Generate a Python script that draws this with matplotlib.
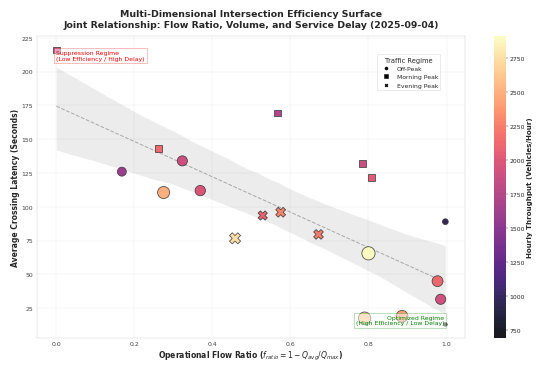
import numpy as np
import matplotlib
matplotlib.use("Agg")
import matplotlib.pyplot as plt
import seaborn as sns
from matplotlib.lines import Line2D
from matplotlib.colors import Normalize

# data
flow_ratio = [0.00, 0.168, 0.262, 0.323, 0.275, 0.369, 0.458, 0.529, 0.575, 0.567,
              0.672, 0.784, 0.807, 0.800, 0.997, 0.977, 0.985, 0.886, 0.790, 0.997]
latency = [216, 126, 143, 134, 110.6, 112, 76.7, 93.6, 96, 169.6,
           79.6, 132, 122, 65.6, 89, 45, 31.6, 19, 17.6, 13]
volume = [1800, 1600, 2150, 1910, 2500, 1980, 2750, 2090, 2290, 1730,
          2250, 1870, 2020, 2910, 960, 2130, 1930, 2420, 2620, 690]
regime = ["Morning Peak", "Off-Peak", "Morning Peak", "Off-Peak", "Off-Peak", "Off-Peak",
          "Evening Peak", "Evening Peak", "Evening Peak", "Morning Peak",
          "Evening Peak", "Morning Peak", "Morning Peak", "Off-Peak", "Off-Peak",
          "Off-Peak", "Off-Peak", "Off-Peak", "Off-Peak", "Off-Peak"]
regimes = ["Off-Peak", "Morning Peak", "Evening Peak"]
markers = {"Off-Peak": "o", "Morning Peak": "s", "Evening Peak": "X"}
size_scale = {"Off-Peak": 1.0, "Morning Peak": 0.45, "Evening Peak": 0.75}

x = np.array(flow_ratio)
y = np.array(latency)
v = np.array(volume)
r = np.array(regime)

sns.set_style("whitegrid")
fig = plt.figure(figsize=(15, 10), dpi=36.67)
ax = fig.add_axes([0.067, 0.076, 0.778, 0.823])
cax = fig.add_axes([0.898, 0.076, 0.022, 0.823])

sns.regplot(x=x, y=y, scatter=False, ax=ax, color="gray", seed=1,
            line_kws=dict(linestyle="--", linewidth=2, alpha=0.6))

norm = Normalize(v.min(), v.max())
for reg in regimes:
    m = r == reg
    sc = ax.scatter(x[m], y[m], c=v[m], cmap="magma", norm=norm,
                    s=(v[m] - 500) * 0.28 * size_scale[reg],
                    marker=markers[reg], edgecolor="#333333", linewidth=1.5,
                    alpha=0.9, zorder=3)

cbar = fig.colorbar(sc, cax=cax)
cbar.set_ticks(np.arange(750, 2751, 250))
cbar.outline.set_visible(False)
cbar.ax.tick_params(labelsize=12)
cbar.set_label("Hourly Throughput (Vehicles/Hour)", fontsize=14, fontweight="bold")

ax.text(0.0, 216, "Suppression Regime\n(Low Efficiency / High Delay)", color="red",
        fontsize=12, ha="left", va="top", zorder=4,
        bbox=dict(boxstyle="square,pad=0.3", facecolor="white", edgecolor="red", alpha=0.5))
ax.text(0.995, 12, "Optimized Regime\n(High Efficiency / Low Delay)", color="green",
        fontsize=12, ha="right", va="bottom", zorder=4,
        bbox=dict(boxstyle="square,pad=0.3", facecolor="white", edgecolor="green", alpha=0.5))

handles = [Line2D([], [], marker=markers[k], color="black", linestyle="", markersize=6)
           for k in regimes]
ax.legend(handles, regimes, title="Traffic Regime", loc="upper right",
          bbox_to_anchor=(0.95, 0.95), fontsize=12, title_fontsize=13)

ax.set_xlabel(r"Operational Flow Ratio ($f_{ratio} = 1 - Q_{avg}/Q_{max}$)",
              fontsize=15, fontweight="bold")
ax.set_ylabel("Average Crossing Latency (Seconds)", fontsize=15, fontweight="bold")
ax.tick_params(labelsize=12, colors="#444444")
ax.grid(alpha=0.4)
ax.set_title("Multi-Dimensional Intersection Efficiency Surface\n"
             "Joint Relationship: Flow Ratio, Volume, and Service Delay (2025-09-04)",
             fontsize=18.5, fontweight="bold", pad=18)

fig.savefig("out.png", dpi=36.67)
